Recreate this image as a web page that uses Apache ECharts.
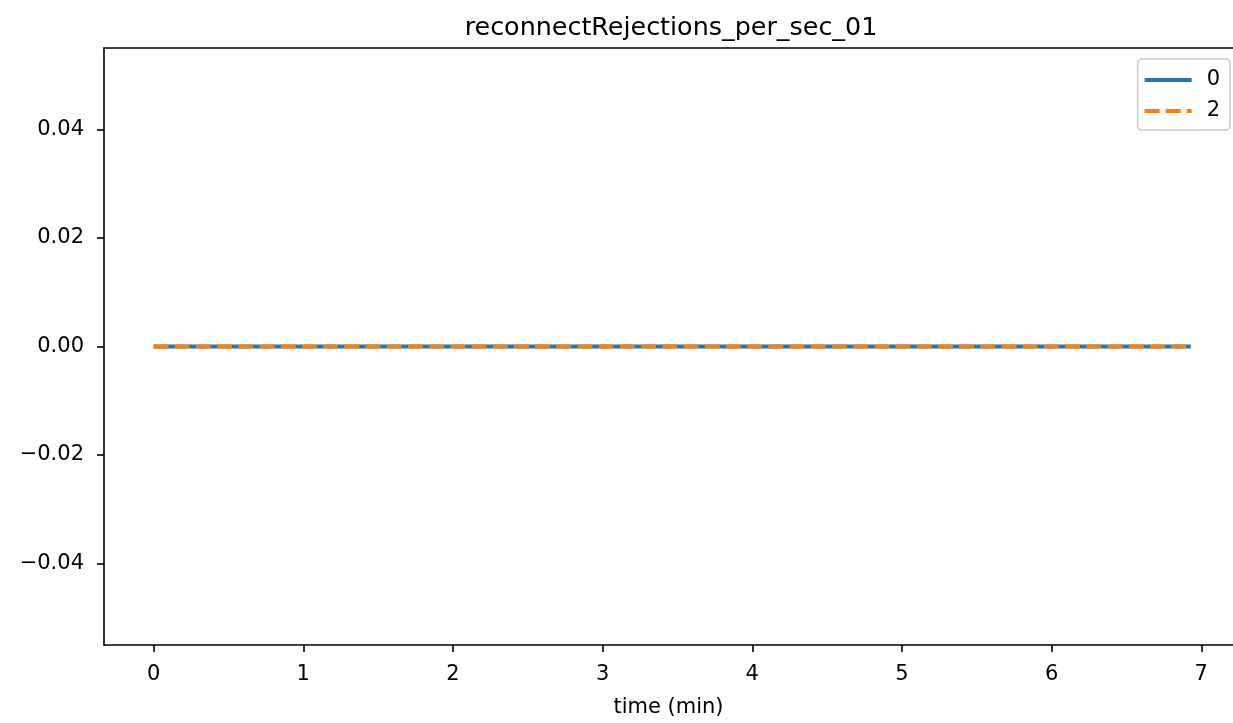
<!DOCTYPE html>
<html>
<head>
<meta charset="utf-8">
<script src="https://cdn.jsdelivr.net/npm/echarts@6/dist/echarts.min.js"></script>
<style>html,body{margin:0;padding:0;background:#fff}#c{width:1233px;height:723px}</style>
</head>
<body>
<div id="c"></div>
<script>
const titleText = 'reconnectRejections_per_sec_01';
const xLabel = 'time (min)';
const timeMin = [0, 0.5, 1, 1.5, 2, 2.5, 3, 3.5, 4, 4.5, 5, 5.5, 6, 6.5, 6.93];
const series0 = [0, 0, 0, 0, 0, 0, 0, 0, 0, 0, 0, 0, 0, 0, 0];
const series2 = [0, 0, 0, 0, 0, 0, 0, 0, 0, 0, 0, 0, 0, 0, 0];
const seriesNames = ['0', '2'];
const xTicks = [0, 1, 2, 3, 4, 5, 6, 7];
const yTicks = [-0.04, -0.02, 0, 0.02, 0.04];

const font = 'DejaVu Sans';
const chart = echarts.init(document.getElementById('c'), null, {renderer: 'canvas'});
const pair = (xs, ys) => xs.map((x, i) => [x, ys[i]]);
const fmtY = v => (v < 0 ? '\u2212' : '') + Math.abs(v).toFixed(2);
const solidIcon = 'path://M0,0H47V4H0Z';
const dashIcon = 'path://M0,0H15V4H0Z M21,0H36V4H21Z M42,0H47V4H42Z';

chart.setOption({
  animation: false,
  backgroundColor: '#ffffff',
  title: {
    text: titleText, left: 666, top: 11, textAlign: 'center',
    textStyle: {fontFamily: font, fontSize: 25.4, fontWeight: 'normal', color: '#000'}
  },
  grid: {left: 104, right: 0, top: 48, bottom: 75, show: false},
  legend: {
    right: 3, top: 59, orient: 'vertical',
    data: [{name: seriesNames[0], icon: solidIcon}, {name: seriesNames[1], icon: dashIcon}],
    itemWidth: 47, itemHeight: 4, itemGap: 7,
    padding: [9, 10, 7, 7],
    borderColor: '#cccccc', borderWidth: 1.6, borderRadius: 4, backgroundColor: 'rgba(255,255,255,0.8)',
    textStyle: {fontFamily: font, fontSize: 21, lineHeight: 24, color: '#000', padding: [0, 0, 0, 10]}
  },
  xAxis: [{
    type: 'value', min: -0.3315, max: 7.212,
    name: xLabel, nameLocation: 'middle', nameGap: 52,
    nameTextStyle: {fontFamily: font, fontSize: 21, color: '#000'},
    axisLine: {show: true, onZero: false, lineStyle: {color: '#000', width: 1.6}},
    axisTick: {show: true, length: 7, lineStyle: {color: '#000', width: 1.6}, customValues: xTicks},
    axisLabel: {fontFamily: font, fontSize: 21, color: '#000', margin: 19, customValues: xTicks, formatter: v => String(v)},
    splitLine: {show: false}
  }, {
    type: 'value', position: 'top', min: -0.3315, max: 7.212,
    axisLine: {show: true, onZero: false, lineStyle: {color: '#000', width: 1.6}},
    axisTick: {show: false}, axisLabel: {show: false}, splitLine: {show: false}
  }],
  yAxis: {
    type: 'value', min: -0.055, max: 0.055,
    axisLine: {show: true, onZero: false, lineStyle: {color: '#000', width: 1.6}},
    axisTick: {show: true, length: 7, lineStyle: {color: '#000', width: 1.6}, customValues: yTicks},
    axisLabel: {fontFamily: font, fontSize: 21, color: '#000', margin: 20, customValues: yTicks, formatter: fmtY},
    splitLine: {show: false}
  },
  series: [
    {name: seriesNames[0], type: 'line', data: pair(timeMin, series0), symbol: 'none',
     lineStyle: {color: '#1f77b4', width: 4, type: 'solid'}, itemStyle: {color: '#1f77b4'}},
    {name: seriesNames[1], type: 'line', data: pair(timeMin, series2), symbol: 'none',
     lineStyle: {color: '#ff7f0e', width: 4, type: [14.8, 6.4]}, itemStyle: {color: '#ff7f0e'}}
  ]
});
</script>
</body>
</html>
